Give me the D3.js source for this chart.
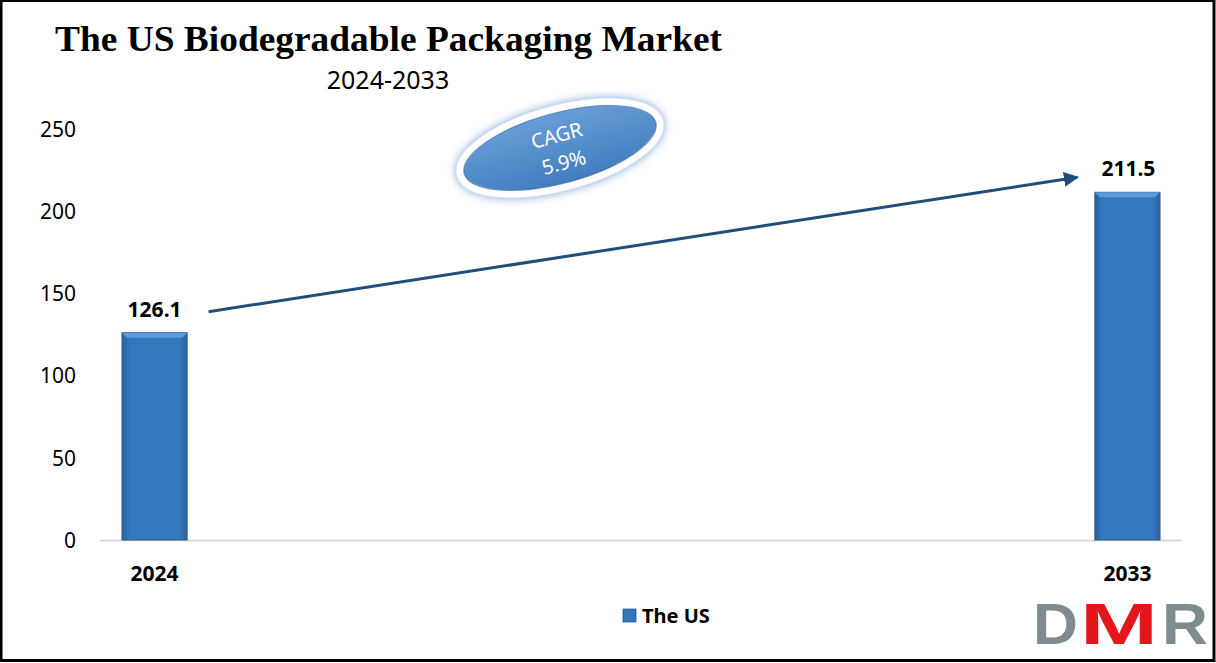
<!DOCTYPE html>
<html><head><meta charset="utf-8">
<script src="https://cdn.jsdelivr.net/npm/d3@7"></script>
<style>html,body{margin:0;padding:0;background:#fff;}svg{display:block;}</style>
</head><body><svg id="c" width="1216" height="663"></svg>
<script>
const categories = ["2024", "2033"];
const values = [126.1, 211.5];
const valueLabels = ["126.1", "211.5"];
const yTicks = [0, 50, 100, 150, 200, 250];
const seriesName = "The US";
const title = "The US Biodegradable Packaging Market";
const subtitle = "2024-2033";
const cagrLines = ["CAGR", "5.9%"];
const logoLetters = ["D", "M", "R"];

const svg = d3.select("#c");
const W = 1216, H = 663;
const defs = svg.append("defs");

const barGrad = defs.append("linearGradient").attr("id","barG").attr("x1","0").attr("x2","1").attr("y1","0").attr("y2","0");
barGrad.append("stop").attr("offset","0").attr("stop-color","#2a62a0");
barGrad.append("stop").attr("offset","0.12").attr("stop-color","#3478be");
barGrad.append("stop").attr("offset","0.88").attr("stop-color","#3478be");
barGrad.append("stop").attr("offset","1").attr("stop-color","#2a62a0");

const ellGrad = defs.append("linearGradient").attr("id","ellG").attr("x1","0").attr("x2","0").attr("y1","0").attr("y2","1");
ellGrad.append("stop").attr("offset","0").attr("stop-color","#6a9fd8");
ellGrad.append("stop").attr("offset","1").attr("stop-color","#3f7cbf");

const glow = defs.append("filter").attr("id","glow").attr("x","-30%").attr("y","-40%").attr("width","160%").attr("height","180%");
glow.append("feGaussianBlur").attr("in","SourceAlpha").attr("stdDeviation","5").attr("result","b");
glow.append("feFlood").attr("flood-color","#5b8fd0").attr("flood-opacity","0.9");
glow.append("feComposite").attr("in2","b").attr("operator","in").attr("result","s");
const m = glow.append("feMerge");
m.append("feMergeNode").attr("in","s");
m.append("feMergeNode").attr("in","SourceGraphic");

defs.append("marker").attr("id","arr").attr("viewBox","0 0 10 10").attr("refX","9").attr("refY","5")
  .attr("markerWidth","5").attr("markerHeight","5").attr("orient","auto").attr("markerUnits","strokeWidth")
  .append("path").attr("d","M0,0 L10,5 L0,10 z").attr("fill","#1f4e79");

svg.append("rect").attr("width",W).attr("height",H).attr("fill","#fff");

const x = d3.scaleBand().domain(categories).range([100,1182]).paddingInner(0.933).paddingOuter(0.0226);
const y = d3.scaleLinear().domain([0,250]).range([540,129]);

// y axis labels
const yAxis = d3.axisLeft(y).tickValues(yTicks).tickSize(0).tickPadding(0);
const ya = svg.append("g").attr("transform","translate(76,0)").call(yAxis);
ya.select(".domain").remove();
ya.selectAll("text").attr("font-family","'Noto Sans', sans-serif").attr("font-size",21).attr("fill","#000").attr("dy","0.35em");

// baseline
svg.append("line").attr("x1",100).attr("x2",1182).attr("y1",y(0)+0.5).attr("y2",y(0)+0.5).attr("stroke","#d0d0d0").attr("stroke-width",1.5);

// bars
const bars = svg.append("g");
categories.forEach((c,i)=>{
  const bx = x(c), bw = x.bandwidth(), by = y(values[i]), bh = y(0)-y(values[i]);
  bars.append("rect").attr("x",bx).attr("y",by).attr("width",bw).attr("height",bh).attr("fill","url(#barG)").attr("stroke","#2a5f99").attr("stroke-width",1);
  bars.append("path").attr("d",`M${bx},${by} L${bx+bw},${by} L${bx+bw-5},${by+5} L${bx+5},${by+5} Z`).attr("fill","#5d9ad8");
});

// value labels
svg.append("g").selectAll("text").data(categories).join("text")
  .attr("x",(d,i)=> x(d)+x.bandwidth()/2 + (i===1?1:0))
  .attr("y",(d,i)=> y(values[i]) - 16)
  .attr("text-anchor","middle").attr("font-family","'Noto Sans', sans-serif").attr("font-weight","bold").attr("font-size",21).attr("fill","#000")
  .text((d,i)=>valueLabels[i]);

// x labels
svg.append("g").selectAll("text").data(categories).join("text")
  .attr("x",d=> x(d)+x.bandwidth()/2).attr("y",581)
  .attr("text-anchor","middle").attr("font-family","'Noto Sans', sans-serif").attr("font-weight","bold").attr("font-size",21).attr("fill","#000")
  .text(d=>d);

// arrow
const a0x = x(categories[0]) + x.bandwidth()/2 + 54, a1x = x(categories[1]) + x.bandwidth()/2 - 50;
svg.append("line").attr("x1",a0x).attr("y1",y(values[0])-21).attr("x2",a1x).attr("y2",y(values[1])-15)
  .attr("stroke","#1f4e79").attr("stroke-width",3).attr("marker-end","url(#arr)");

// title
svg.append("text").attr("x",55).attr("y",51).attr("font-family","'Liberation Serif', 'Times New Roman', serif").attr("font-weight","bold")
  .attr("font-size",35).attr("textLength",667).attr("lengthAdjust","spacingAndGlyphs").attr("fill","#000").text(title);
svg.append("text").attr("x",388).attr("y",89).attr("text-anchor","middle").attr("font-family","'Noto Sans', sans-serif")
  .attr("font-size",25).attr("fill","#000").text(subtitle);

// CAGR ellipse
const eg = svg.append("g").attr("transform","translate(560,148) rotate(-15)");
eg.append("ellipse").attr("rx",103).attr("ry",39).attr("fill","url(#ellG)").attr("stroke","#fff").attr("stroke-width",7).attr("filter","url(#glow)");
eg.append("ellipse").attr("rx",99).attr("ry",35).attr("fill","none").attr("stroke","#2f5f98").attr("stroke-width",1).attr("opacity",0.5);
eg.selectAll("text.c").data(cagrLines).join("text").attr("class","c")
  .attr("x",0).attr("y",(d,i)=> i===0? -6 : 22).attr("text-anchor","middle")
  .attr("font-family","'Noto Sans', sans-serif").attr("font-size",20).attr("fill","#fff").text(d=>d);

// legend
svg.append("rect").attr("x",623).attr("y",609).attr("width",13).attr("height",13).attr("fill","url(#barG)").attr("stroke","#2a5f99").attr("stroke-width",0.8);
svg.append("text").attr("x",642).attr("y",623).attr("font-family","'Noto Sans', sans-serif").attr("font-weight","bold").attr("font-size",20).attr("fill","#000").text(seriesName);

// DMR logo
const logoX = [1033, 1080, 1162];
const logoW = [45, 78, 46];
const logoC = ["#7f8c8d", "#e3161b", "#7f8c8d"];
svg.append("g").attr("font-family","'Liberation Sans', Arial, sans-serif").attr("font-weight","bold").attr("font-size",58)
  .selectAll("text").data(logoLetters).join("text")
  .attr("x",(d,i)=>logoX[i]).attr("y",644).attr("fill",(d,i)=>logoC[i])
  .attr("textLength",(d,i)=>logoW[i]).attr("lengthAdjust","spacingAndGlyphs").text(d=>d);

// border
svg.append("rect").attr("x",1).attr("y",0.5).attr("width",W-3).attr("height",H-3).attr("fill","none").attr("stroke","#000").attr("stroke-width",3);
</script></body></html>
